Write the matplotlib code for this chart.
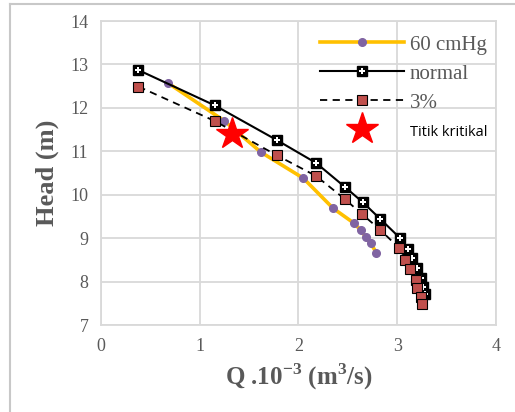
import numpy as np
import matplotlib
matplotlib.use("Agg")
import matplotlib.pyplot as plt
from matplotlib.lines import Line2D
from matplotlib.legend_handler import HandlerTuple

# data (Q in 10^-3 m3/s, head in m)
q_60 = [0.68, 1.25, 1.62, 2.05, 2.35, 2.56, 2.63, 2.68, 2.73, 2.79]
h_60 = [12.57, 11.70, 10.98, 10.38, 9.69, 9.35, 9.19, 9.03, 8.89, 8.66]

q_normal = [0.38, 1.15, 1.78, 2.18, 2.47, 2.65, 2.83, 3.03, 3.11, 3.15, 3.20, 3.24, 3.26, 3.28]
h_normal = [12.87, 12.06, 11.26, 10.73, 10.18, 9.83, 9.44, 9.00, 8.75, 8.54, 8.31, 8.08, 7.88, 7.72]

q_3 = [0.38, 1.15, 1.78, 2.18, 2.47, 2.64, 2.83, 3.02, 3.08, 3.13, 3.19, 3.20, 3.24, 3.25]
h_3 = [12.49, 11.70, 10.91, 10.43, 9.90, 9.56, 9.19, 8.77, 8.50, 8.29, 8.04, 7.85, 7.64, 7.48]

q_kritis = [1.33]
h_kritis = [11.40]

gray = "#595959"
grid = "#d9d9d9"

fig = plt.figure(figsize=(5.15, 4.12), dpi=100)
ax = fig.add_axes([0.196, 0.211, 0.767, 0.738])

l60, = ax.plot(q_60, h_60, color="#ffc000", lw=2.6, marker="o", ms=5.5,
               mfc="#8064a2", mec="#8064a2", zorder=3)
ln, = ax.plot(q_normal, h_normal, color="black", lw=1.5, marker="s", ms=6.5,
              mfc="black", mec="black", zorder=4)
lnp, = ax.plot(q_normal, h_normal, ls="none", marker="P", ms=5,
               mfc="white", mec="white", mew=0, zorder=4.5)
l3, = ax.plot(q_3, h_3, color="black", lw=1.3, ls=(0, (4, 3)), marker="s", ms=6.5,
              mfc="#c0504d", mec="black", mew=0.8, zorder=5)
lk, = ax.plot(q_kritis, h_kritis, ls="none", marker="*", ms=24, color="red",
              mec="red", zorder=6)

ax.set_xlim(0, 4)
ax.set_ylim(7, 14)
ax.set_xticks(np.arange(0, 5, 1))
ax.set_yticks(np.arange(7, 15, 1))
ax.grid(True, color=grid, lw=1.3)
ax.set_axisbelow(True)
for s in ax.spines.values():
    s.set_color(grid)
    s.set_linewidth(1.3)
ax.tick_params(length=0, pad=9, labelsize=13, labelcolor=gray)
for lab in ax.get_xticklabels() + ax.get_yticklabels():
    lab.set_fontfamily("Liberation Serif")

ax.set_xlabel(r"Q .10$^{\mathregular{-3}}$ (m$^{\mathregular{3}}$/s)",
              fontsize=18, fontweight="bold", color=gray,
              fontfamily="Liberation Serif", labelpad=5)
ax.set_ylabel("Head (m)", fontsize=19, fontweight="bold", color=gray,
              fontfamily="Liberation Serif", labelpad=8)

leg = ax.legend([l60, (ln, lnp), l3, lk],
                ["60 cmHg", "normal", "3%", "Titik kritikal"],
                handler_map={tuple: HandlerTuple(ndivide=1, pad=0)},
                loc="upper right", bbox_to_anchor=(1.01, 0.995), frameon=False,
                handlelength=4.0, handletextpad=0.3, labelspacing=0.45,
                borderaxespad=0.2,
                prop={"family": "Liberation Serif", "size": 15})
for t in leg.get_texts():
    t.set_color(gray)
leg.get_texts()[3].set_color("black")
leg.get_texts()[3].set_fontfamily("Open Sans")
leg.get_texts()[3].set_fontsize(10.5)

# outer frame of the picture
fig.add_artist(Line2D([0.019, 1.0], [0.99, 0.99], color="#c8c8c8", lw=1.5,
                      transform=fig.transFigure))
fig.add_artist(Line2D([0.019, 0.019], [0.0, 0.99], color="#c8c8c8", lw=1.5,
                      transform=fig.transFigure))

fig.savefig("out.png", dpi=100)
